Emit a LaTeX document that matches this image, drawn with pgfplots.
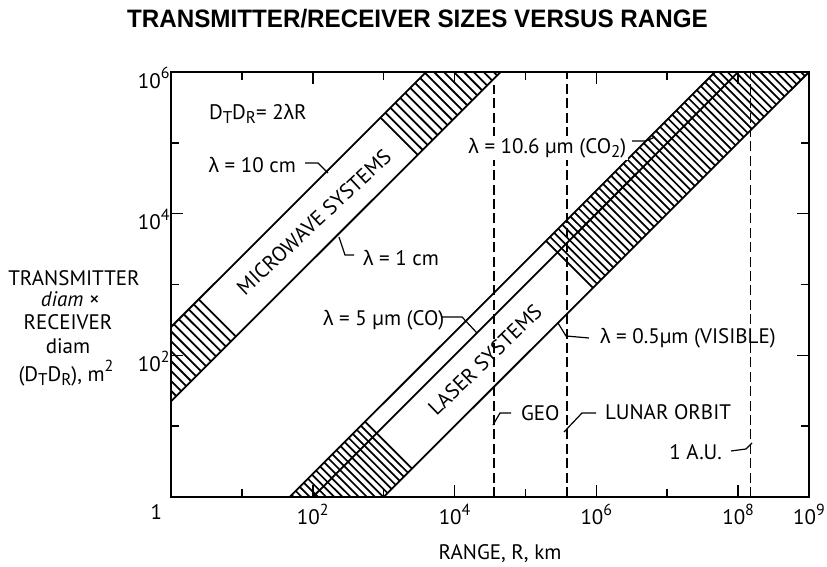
\documentclass[border=0pt]{standalone}
\usepackage{fontspec}
\setmainfont{PT Sans}
\newfontfamily\grk{Liberation Sans}
\newfontfamily\tfont{Liberation Sans}
\usepackage{graphicx}
\usepackage{pgfplots}
\pgfplotsset{compat=1.18}
\newcommand{\lam}{{\grk λ}}
\newcommand{\fs}{\fontsize{10.5}{12}\selectfont}
\newcommand{\sub}[1]{\raisebox{-0.45ex}{\fontsize{8.5}{9}\selectfont #1}}
\newcommand{\sups}[1]{\raisebox{0.9ex}{\fontsize{8}{9}\selectfont #1}}

\begin{document}
\begin{tikzpicture}[font=\fs]
\useasboundingbox (0,0) rectangle (413.5pt,283.5pt);
% hatching, drawn in decade units (log10 R, log10 D) on a hidden axis of the same size
\begin{axis}[
  at={(85.5pt,35pt)}, anchor=south west,
  scale only axis, width=319pt, height=212.5pt,
  xmin=0, xmax=9, ymin=0, ymax=6, hide axis,
  unbounded coords=jump,
]
% microwave band, lower hatched part
\addplot[black, line width=0.9pt] coordinates {
(0,1.50) (0.075,1.425) (nan,nan)
(0,1.64) (0.145,1.495) (nan,nan)
(0,1.78) (0.215,1.565) (nan,nan)
(0,1.92) (0.285,1.635) (nan,nan)
(0,2.06) (0.355,1.705) (nan,nan)
(0,2.20) (0.425,1.775) (nan,nan)
(0,2.34) (0.495,1.845) (nan,nan)
(0.04,2.44) (0.565,1.915) (nan,nan)
(0.11,2.51) (0.635,1.985) (nan,nan)
(0.18,2.58) (0.705,2.055) (nan,nan)
(0.25,2.65) (0.775,2.125) (nan,nan)
(0.32,2.72) (0.845,2.195) (nan,nan)
(0.39,2.79) (0.915,2.265)
};
% microwave band, upper hatched part
\addplot[black, line width=0.9pt] coordinates {
(2.955,5.355) (3.48,4.83) (nan,nan)
(3.025,5.425) (3.55,4.90) (nan,nan)
(3.095,5.495) (3.62,4.97) (nan,nan)
(3.165,5.565) (3.69,5.04) (nan,nan)
(3.235,5.635) (3.76,5.11) (nan,nan)
(3.305,5.705) (3.83,5.18) (nan,nan)
(3.375,5.775) (3.90,5.25) (nan,nan)
(3.445,5.845) (3.97,5.32) (nan,nan)
(3.515,5.915) (4.04,5.39) (nan,nan)
(3.585,5.985) (4.11,5.46) (nan,nan)
(3.71,6) (4.18,5.53) (nan,nan)
(3.85,6) (4.25,5.60) (nan,nan)
(3.99,6) (4.32,5.67) (nan,nan)
(4.13,6) (4.39,5.74) (nan,nan)
(4.27,6) (4.46,5.81) (nan,nan)
(4.41,6) (4.53,5.88) (nan,nan)
(4.55,6) (4.60,5.95)
};
% laser band, lower hatched part
\addplot[black, line width=0.85pt] coordinates {
(2.737,1.063) (3.40,0.40) (nan,nan)
(2.6795,1.0055) (3.3425,0.3425) (nan,nan)
(2.622,0.948) (3.285,0.285) (nan,nan)
(2.5645,0.8905) (3.2275,0.2275) (nan,nan)
(2.507,0.833) (3.17,0.17) (nan,nan)
(2.4495,0.7755) (3.1125,0.1125) (nan,nan)
(2.392,0.718) (3.055,0.055) (nan,nan)
(2.3345,0.6605) (2.995,0) (nan,nan)
(2.277,0.603) (2.88,0) (nan,nan)
(2.2195,0.5455) (2.765,0) (nan,nan)
(2.162,0.488) (2.65,0) (nan,nan)
(2.1045,0.4305) (2.535,0) (nan,nan)
(2.047,0.373) (2.42,0) (nan,nan)
(1.9895,0.3155) (2.305,0) (nan,nan)
(1.932,0.258) (2.19,0) (nan,nan)
(1.8745,0.2005) (2.075,0) (nan,nan)
(1.817,0.143) (1.96,0) (nan,nan)
(1.7595,0.0855) (1.845,0) (nan,nan)
(1.702,0.028) (1.73,0)
};
% laser band, upper hatched part
\addplot[black, line width=0.85pt] coordinates {
(5.2895,3.6155) (5.9525,2.9525) (nan,nan)
(5.347,3.673) (6.01,3.01) (nan,nan)
(5.4045,3.7305) (6.0675,3.0675) (nan,nan)
(5.462,3.788) (6.125,3.125) (nan,nan)
(5.5195,3.8455) (6.1825,3.1825) (nan,nan)
(5.577,3.903) (6.24,3.24) (nan,nan)
(5.6345,3.9605) (6.2975,3.2975) (nan,nan)
(5.692,4.018) (6.355,3.355) (nan,nan)
(5.7495,4.0755) (6.4125,3.4125) (nan,nan)
(5.807,4.133) (6.47,3.47) (nan,nan)
(5.8645,4.1905) (6.5275,3.5275) (nan,nan)
(5.922,4.248) (6.585,3.585) (nan,nan)
(5.9795,4.3055) (6.6425,3.6425) (nan,nan)
(6.037,4.363) (6.7,3.7) (nan,nan)
(6.0945,4.4205) (6.7575,3.7575) (nan,nan)
(6.152,4.478) (6.815,3.815) (nan,nan)
(6.2095,4.5355) (6.8725,3.8725) (nan,nan)
(6.267,4.593) (6.93,3.93) (nan,nan)
(6.3245,4.6505) (6.9875,3.9875) (nan,nan)
(6.382,4.708) (7.045,4.045) (nan,nan)
(6.4395,4.7655) (7.1025,4.1025) (nan,nan)
(6.497,4.823) (7.16,4.16) (nan,nan)
(6.5545,4.8805) (7.2175,4.2175) (nan,nan)
(6.612,4.938) (7.275,4.275) (nan,nan)
(6.6695,4.9955) (7.3325,4.3325) (nan,nan)
(6.727,5.053) (7.39,4.39) (nan,nan)
(6.7845,5.1105) (7.4475,4.4475) (nan,nan)
(6.842,5.168) (7.505,4.505) (nan,nan)
(6.8995,5.2255) (7.5625,4.5625) (nan,nan)
(6.957,5.283) (7.62,4.62) (nan,nan)
(7.0145,5.3405) (7.6775,4.6775) (nan,nan)
(7.072,5.398) (7.735,4.735) (nan,nan)
(7.1295,5.4555) (7.7925,4.7925) (nan,nan)
(7.187,5.513) (7.85,4.85) (nan,nan)
(7.2445,5.5705) (7.9075,4.9075) (nan,nan)
(7.302,5.628) (7.965,4.965) (nan,nan)
(7.3595,5.6855) (8.0225,5.0225) (nan,nan)
(7.417,5.743) (8.08,5.08) (nan,nan)
(7.4745,5.8005) (8.1375,5.1375) (nan,nan)
(7.532,5.858) (8.195,5.195) (nan,nan)
(7.5895,5.9155) (8.2525,5.2525) (nan,nan)
(7.647,5.973) (8.31,5.31) (nan,nan)
(7.735,6) (8.3675,5.3675) (nan,nan)
(7.85,6) (8.425,5.425) (nan,nan)
(7.965,6) (8.4825,5.4825) (nan,nan)
(8.08,6) (8.54,5.54) (nan,nan)
(8.195,6) (8.5975,5.5975) (nan,nan)
(8.31,6) (8.655,5.655) (nan,nan)
(8.425,6) (8.7125,5.7125) (nan,nan)
(8.54,6) (8.77,5.77) (nan,nan)
(8.655,6) (8.8275,5.8275) (nan,nan)
(8.77,6) (8.885,5.885) (nan,nan)
(8.885,6) (8.9425,5.9425)
};
\end{axis}
\begin{axis}[
  at={(85.5pt,35pt)}, anchor=south west,
  scale only axis, width=319pt, height=212.5pt,
  xmode=log, ymode=log,
  xmin=1, xmax=1e9, ymin=1, ymax=1e6,
  axis line style={line width=0.9pt},
  xtick={1,100,10000,1000000,100000000,1000000000},
  xticklabels={\makebox[0pt][r]{1\kern4.5pt}, 10\sups{2}, 10\sups{4}, 10\sups{6}, 10\sups{8}, 10\sups{9}},
  minor xtick={10,1000,100000,10000000},
  ytick={100,10000,1000000},
  yticklabels={10\sups{2}, 10\sups{4}, 10\sups{6}},
  minor ytick={10,1000,100000},
  major tick length=6pt, minor tick length=4pt,
  tick style={black, line width=0.8pt},
  tick align=inside,
  xticklabel style={font=\fs},
  yticklabel style={font=\fs, inner sep=0.5pt, yshift=-3pt},
]
% microwave systems: lambda = 10 cm and lambda = 1 cm
\addplot[black, line width=0.9pt] coordinates {(1,251.2) (3981,1e6)};
\addplot[black, line width=0.9pt] coordinates {(1,22.39) (44670,1e6)};
% laser systems: 10.6 um (CO2), 5 um (CO), 0.5 um (visible)
\addplot[black, line width=0.9pt] coordinates {(47.2,1) (4.72e7,1e6)};
\addplot[black, line width=0.9pt] coordinates {(100,1) (1e8,1e6)};
\addplot[black, line width=0.9pt] coordinates {(1000,1) (1e9,1e6)};
% GEO, lunar orbit, 1 A.U.
\addplot[black, line width=0.85pt, dash pattern=on 5pt off 2.2pt] coordinates {(36000,1) (36000,6.5e5)};
\addplot[black, line width=0.85pt, dash pattern=on 5pt off 2.2pt] coordinates {(384000,1) (384000,1e6)};
\addplot[black, line width=0.85pt, dash pattern=on 5pt off 2.2pt] coordinates {(1.496e8,1) (1.496e8,1e6)};
\end{axis}
\begin{scope}[x=0.5pt,y=-0.5pt,yshift=283.5pt]
\node[font=\tfont\bfseries\fontsize{12.6}{14}\selectfont, anchor=base] at (417.5,28) {\scalebox{0.96}[1]{TRANSMITTER/RECEIVER SIZES VERSUS RANGE}};
\node[anchor=west] at (202,114) {D\sub{T}D\sub{R}= 2\lam R};
\node[anchor=east] at (303,165) {\lam\ = 10 cm};
\draw[line width=0.6pt] (305,163) -- (318,163) -- (328,173);
\node[rotate=43] at (314,222) {MICROWAVE SYSTEMS};
\node[anchor=west] at (356,258) {\lam\ = 1 cm};
\draw[line width=0.6pt] (339,237) -- (345,255) -- (354,255);
\node[rotate=44] at (485,360) {LASER SYSTEMS};
\node[anchor=west] at (316,320) {\lam\ = 5 µm (CO)};
\draw[line width=0.6pt] (442,317) -- (462,317) -- (477,333);
\node[anchor=west, fill=white, inner sep=1pt] at (466,148) {\lam\ = 10.6 µm (CO\sub{2})};
\draw[line width=0.6pt] (632,141) -- (646,141) -- (655,137);
\node[anchor=west] at (593,338) {\lam\ = 0.5µm (VISIBLE)};
\draw[line width=0.6pt] (558,323) -- (566,336) -- (589,338);
\node[anchor=west] at (514,413) {GEO};
\draw[line width=0.6pt] (493,425) -- (500,413) -- (511,413);
\node[anchor=west] at (598,412) {LUNAR ORBIT};
\draw[line width=0.6pt] (564,432) -- (582,413) -- (596,413);
\node[anchor=east] at (729,452) {1 A.U.};
\draw[line width=0.6pt] (731,451) -- (746,449) -- (752,443);
\node[inner sep=1pt] at (74,278) {TRANSMITTER};
\node[inner sep=1pt] at (70,299) {\itshape diam ×};
\node[inner sep=1pt] at (68,322) {RECEIVER};
\node[inner sep=1pt] at (68,346) {diam};
\node[inner sep=1pt] at (66,373) {(D\sub{T}D\sub{R}), m\sups{2}};
\node at (500,554) {RANGE, R, km};
\end{scope}
\end{tikzpicture}
\end{document}
